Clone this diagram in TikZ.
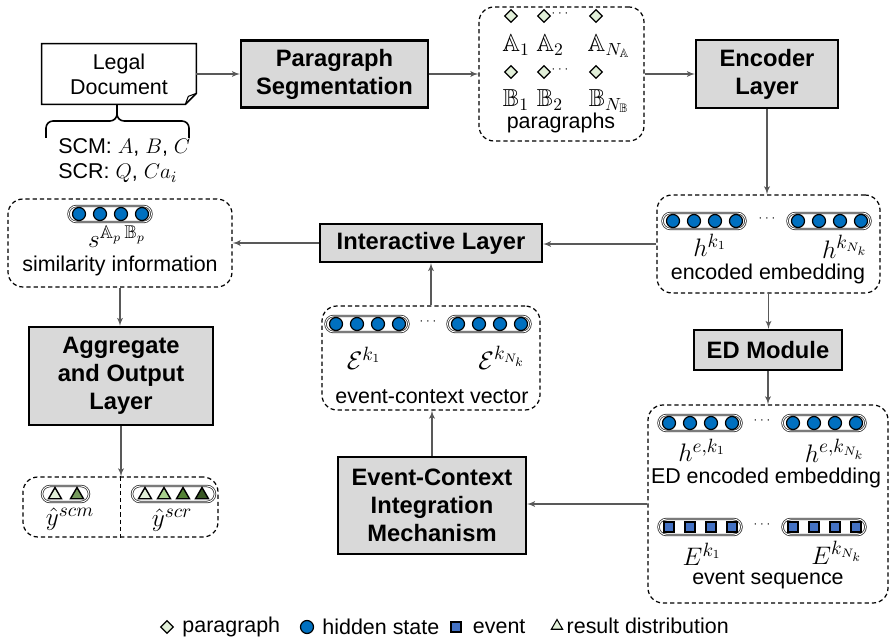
\documentclass[tikz,border=0pt]{standalone}
\usepackage{fontspec}
\setmainfont{Liberation Sans}
\usepackage{amssymb}
\usepackage{xcolor}
\usetikzlibrary{positioning}
\usetikzlibrary{arrows}
\usetikzlibrary{calc}
\usetikzlibrary{fit}
\usetikzlibrary{shapes.geometric}

\definecolor{boxgray}{HTML}{D9D9D9}
\definecolor{hblue}{HTML}{0070C0}
\definecolor{eblue}{HTML}{4472C4}
\definecolor{pgreen}{HTML}{E2F0D9}
\definecolor{rlight}{HTML}{E2F0D9}
\definecolor{rmid}{HTML}{A9D18E}
\definecolor{rdark}{HTML}{548235}
\definecolor{rdeep}{HTML}{385723}

% a vector of four hidden states / four events
\newcommand{\hrow}[2]{\node[pill,minimum width=1.66cm] at (#1,#2) {};
  \foreach \d in {-31,-10,11,32} \node[hdot] at ({#1+\d},#2) {};}
\newcommand{\erow}[2]{\node[pill,minimum width=1.66cm] at (#1,#2) {};
  \foreach \d in {-31,-10,11,32} \node[evsq] at ({#1+\d},#2) {};}

\begin{document}
\begin{tikzpicture}[x=0.02cm,y=-0.02cm,>=latex',
    block/.style={draw,line width=1.2pt,fill=boxgray,align=center,inner sep=0,
                  font=\fontsize{13.5}{16}\selectfont\bfseries},
    group/.style={draw,line width=0.7pt,dash pattern=on 2.4pt off 1.7pt,
                  rounded corners=0.3cm,inner sep=0},
    flow/.style={->,draw=black!65,line width=0.6pt},
    txt/.style={inner sep=0,font=\fontsize{12.2}{14.3}\selectfont},
    sym/.style={inner sep=0,font=\fontsize{15}{17}\selectfont},
    psym/.style={inner sep=0,font=\fontsize{14}{16}\selectfont},
    dots/.style={inner sep=0,font=\fontsize{7}{7}\selectfont},
    pill/.style={draw=black!80,double=white,double distance=0.5pt,line width=0.45pt,
                 rounded corners=0.16cm,minimum height=0.32cm,inner sep=0},
    hdot/.style={circle,draw,line width=0.7pt,fill=hblue,minimum size=0.26cm,inner sep=0},
    evsq/.style={rectangle,draw,line width=0.7pt,fill=eblue,minimum size=0.2cm,inner sep=0},
    pdia/.style={diamond,draw,line width=0.7pt,fill=pgreen,minimum size=0.26cm,inner sep=0},
    rtri/.style={regular polygon,regular polygon sides=3,draw,line width=0.8pt,
                 minimum size=0.3cm,inner sep=0}]
  \useasboundingbox (0,0) rectangle (893,642);

  % input document
  \node[txt,align=center,minimum width=3.08cm,minimum height=1.2cm] (doc) at (119,74)
       {Legal\\Document};
  \draw[line width=0.9pt] (doc.north west) -- (doc.north east)
       -- ($(doc.south east)+(0,-11)$) -- ($(doc.south east)+(-11,0)$)
       -- (doc.south west) -- cycle;
  \draw[line width=0.6pt] ($(doc.south east)+(0,-11)$) -- ($(doc.south east)+(-8,-8)$)
       -- ($(doc.south east)+(-11,0)$);
  \draw[line width=0.9pt,rounded corners=4pt] (46,138) -- (46,121) -- (117,121) -- (117,105)
       (117,105) -- (117,121) -- (189,121) -- (189,138);
  \node[txt,align=left,anchor=west] (tasks) at (58,161)
       {SCM: $A$, $B$, $C$\\SCR: $Q$, $Ca_i$};

  % blocks
  \node[block,minimum width=3.74cm,minimum height=1.34cm] (seg) at (334.5,74) {Paragraph\\Segmentation};
  \node[block,minimum width=2.84cm,minimum height=1.36cm] (enc) at (767,74) {Encoder\\Layer};
  \node[block,minimum width=2.96cm,minimum height=0.8cm] (edm) at (768,350) {ED Module};
  \node[block,minimum width=4.44cm,minimum height=0.76cm] (inter) at (431,243) {Interactive Layer};
  \node[block,minimum width=3.68cm,minimum height=1.96cm] (agg) at (121,376) {Aggregate\\and Output\\Layer};
  \node[block,minimum width=3.76cm,minimum height=1.94cm] (ecim) at (432,505.5)
       {Event-Context\\Integration\\Mechanism};

  % paragraphs
  \node[group,fit={(479,7) (644,141)}] (para) {};
  \foreach \px in {511,544,596} {
    \node[pdia] at (\px,16) {};
    \node[pdia] at (\px,72) {};
  }
  \node[dots] at (560,14) {$\cdots$};
  \node[dots] at (560,70) {$\cdots$};
  \node[psym] at (516,45) {$\mathbb{A}_1$};
  \node[psym] at (550,45) {$\mathbb{A}_2$};
  \node[psym] at (609,46) {$\mathbb{A}_{N_{\mathbb{A}}}$};
  \node[psym] at (516,100) {$\mathbb{B}_1$};
  \node[psym] at (550,100) {$\mathbb{B}_2$};
  \node[psym] at (609,101) {$\mathbb{B}_{N_{\mathbb{B}}}$};
  \node[txt] at (561,123) {paragraphs};

  % encoded embedding
  \node[group,fit={(657,195) (880,293)}] (encemb) {};
  \hrow{704}{221}
  \hrow{829}{221}
  \node[dots] at (767,219) {$\cdots$};
  \node[sym] at (710,245) {$h^{k_1}$};
  \node[sym] at (845,247) {$h^{k_{N_k}}$};
  \node[txt] at (768,274) {encoded embedding};

  % ED output
  \node[group,fit={(648,405) (888,603)}] (edout) {};
  \hrow{700}{423}
  \hrow{824}{423}
  \node[dots] at (762,421) {$\cdots$};
  \node[sym] at (702,450) {$h^{e,k_1}$};
  \node[sym] at (835,451) {$h^{e,k_{N_k}}$};
  \node[txt] at (766,478) {ED encoded embedding};
  \erow{700}{527}
  \erow{824}{527}
  \node[dots] at (762,525) {$\cdots$};
  \node[sym] at (702,554) {$E^{k_1}$};
  \node[sym] at (837,553) {$E^{k_{N_k}}$};
  \node[txt] at (768,580) {event sequence};

  % event-context vectors
  \node[group,fit={(322,306) (540,410)}] (ecvec) {};
  \hrow{367}{324}
  \hrow{489}{324}
  \node[dots] at (428,322) {$\cdots$};
  \node[sym] at (364,358) {$\mathcal{E}^{k_1}$};
  \node[sym] at (502,358) {$\mathcal{E}^{k_{N_k}}$};
  \node[txt] at (432,397) {event-context vector};

  % similarity
  \node[group,fit={(8,199) (232,287)}] (simi) {};
  \hrow{110}{214}
  \node[sym] at (117,237) {$s^{\mathbb{A}_p\,\mathbb{B}_p}$};
  \node[txt] at (120,266) {similarity information};

  % outputs
  \node[group,fit={(23,477) (218,537)}] (out) {};
  \draw[line width=0.7pt,dash pattern=on 2.4pt off 1.7pt] (out.north) -- (out.south);
  \node[pill,minimum width=0.94cm] at (65.5,494) {};
  \node[rtri,fill=rlight] at (55,495) {};
  \node[rtri,fill=rdark!80] at (77,495) {};
  \node[pill,minimum width=1.66cm] at (173.5,494) {};
  \node[rtri,fill=rlight] at (145,495) {};
  \node[rtri,fill=rmid] at (164,495) {};
  \node[rtri,fill=rdark] at (183,495) {};
  \node[rtri,fill=rdeep] at (202,495) {};
  \node[sym] at (70,519) {$\hat{y}^{scm}$};
  \node[sym] at (172,520) {$\hat{y}^{scr}$};

  % legend
  \node[pdia] (lgpara) at (167,627) {};
  \node[txt,right=0.16cm of lgpara] {paragraph};
  \node[hdot] (lghid) at (307,627) {};
  \node[txt,right=0.16cm of lghid] {hidden state};
  \node[evsq] (lgev) at (456,627) {};
  \node[txt,right=0.22cm of lgev] {event};
  \node[rtri,fill=rlight,minimum size=0.26cm,line width=0.6pt] (lgres) at (557,626) {};
  \node[txt,right=0.1cm of lgres] {result distribution};

  \path
    (doc.east) edge[flow] (seg.west)
    (seg.east) edge[flow] (para.west)
    (para.east) edge[flow] (enc.west)
    (enc.south) edge[flow] (enc.south |- encemb.north)
    (encemb.south) edge[flow] (encemb.south |- edm.north)
    (edm.south) edge[flow] (edm.south |- edout.north)
    (edout.west) edge[flow] (edout.west -| ecim.east)
    (ecim.north) edge[flow] (ecim.north |- ecvec.south)
    (ecvec.north) edge[flow] (ecvec.north |- inter.south)
    (encemb.west) edge[flow] (encemb.west -| inter.east)
    (inter.west) edge[flow] (inter.west -| simi.east)
    (simi.south) edge[flow] (simi.south |- agg.north)
    (agg.south) edge[flow] (agg.south |- out.north);
\end{tikzpicture}
\end{document}
